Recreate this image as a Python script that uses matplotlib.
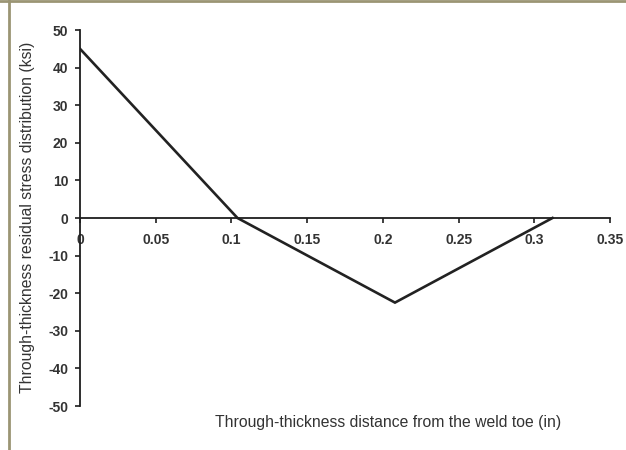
import matplotlib
matplotlib.use("Agg")
import matplotlib.pyplot as plt
from matplotlib.lines import Line2D

plt.rcParams['font.family'] = ['Liberation Sans', 'DejaVu Sans']
plt.rcParams['axes.unicode_minus'] = False

# Residual stress profile through the plate thickness
depth_in = [0.0, 0.104, 0.208, 0.312]
stress_ksi = [45.0, 0.0, -22.5, 0.0]
x_ticks = [0, 0.05, 0.1, 0.15, 0.2, 0.25, 0.3, 0.35]
x_tick_labels = ['0', '0.05', '0.1', '0.15', '0.2', '0.25', '0.3', '0.35']
y_ticks = [-50, -40, -30, -20, -10, 0, 10, 20, 30, 40, 50]

text_color = '#333333'
axis_color = '#1e1e1e'

fig = plt.figure(figsize=(6.26, 4.5), dpi=100)
ax = fig.add_axes([80 / 626, 44 / 450, 530 / 626, 376 / 450])

ax.plot(depth_in, stress_ksi, color='#222222', linewidth=1.9, solid_joinstyle='miter')

ax.set_xlim(0, 0.35)
ax.set_ylim(-50, 50)
ax.set_xticks(x_ticks)
ax.set_xticklabels(x_tick_labels)
ax.set_yticks(y_ticks)

# axis lines cross at the origin, like a spreadsheet chart
ax.spines['left'].set_position(('data', 0))
ax.spines['bottom'].set_position(('data', 0))
ax.spines['top'].set_visible(False)
ax.spines['right'].set_visible(False)
for s in ('left', 'bottom'):
    ax.spines[s].set_color(axis_color)
    ax.spines[s].set_linewidth(1.3)

ax.tick_params(axis='both', direction='out', length=3.5, width=1.2, color=axis_color,
               labelsize=10, labelcolor=text_color)
ax.tick_params(axis='x', pad=7)
ax.tick_params(axis='y', pad=5)
for lbl in ax.get_xticklabels() + ax.get_yticklabels():
    lbl.set_fontweight('bold')

fig.text(28 / 626, 233 / 450, 'Through-thickness residual stress distribution (ksi)',
         rotation=90, ha='center', va='center', fontsize=11.3, color=text_color)
fig.text(388 / 626, 28 / 450, 'Through-thickness distance from the weld toe (in)',
         ha='center', va='center', fontsize=11.3, color=text_color)

# thin frame on the top and left edges
frame_color = '#9b9574'
fig.add_artist(Line2D([0, 1], [449 / 450, 449 / 450], transform=fig.transFigure,
                      color=frame_color, linewidth=2))
fig.add_artist(Line2D([9 / 626, 9 / 626], [0, 1], transform=fig.transFigure,
                      color=frame_color, linewidth=2))

fig.savefig('out.png', dpi=100, facecolor='white')
